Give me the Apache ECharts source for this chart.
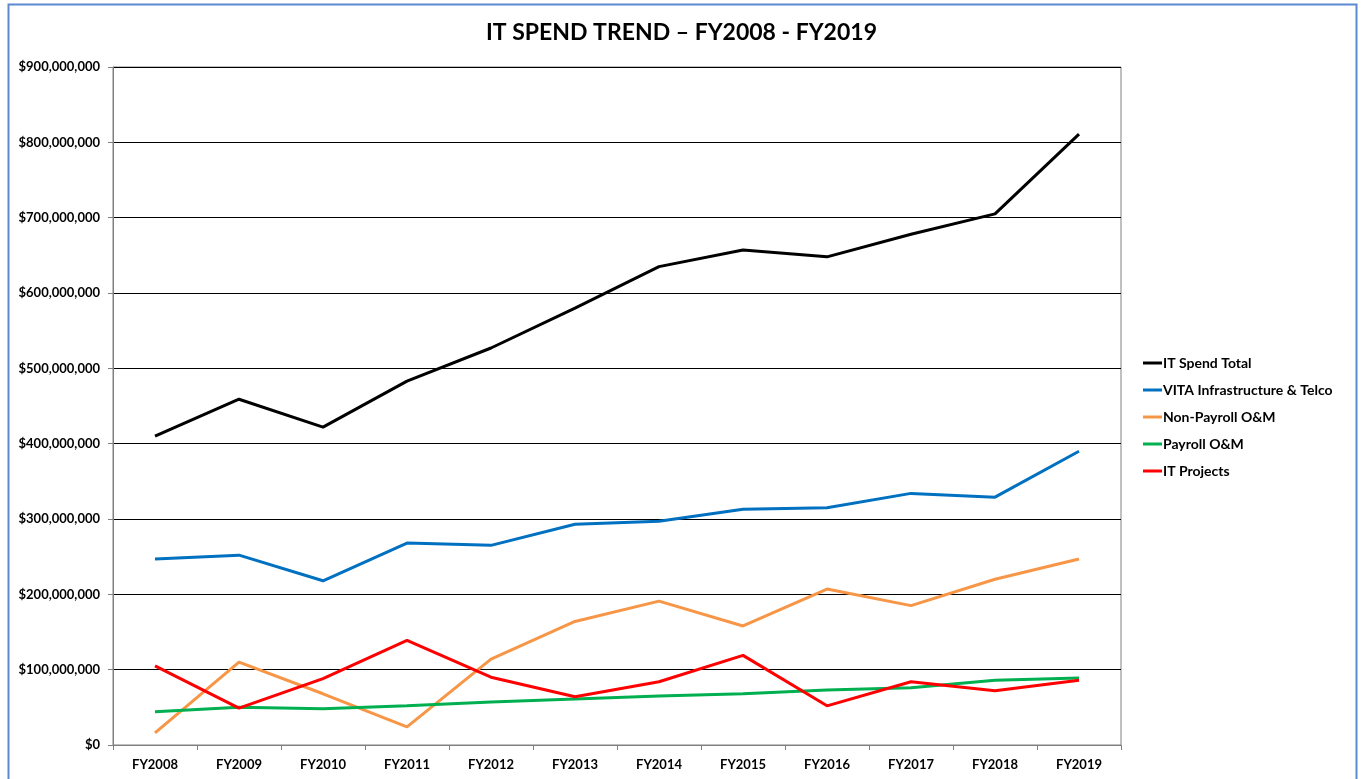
<!DOCTYPE html>
<html>
<head>
	<meta charset="utf-8">
	<title>IT Spend Trend</title>
	<script src="https://cdn.jsdelivr.net/npm/echarts@6/dist/echarts.min.js"></script>
	<style>
		body { margin: 0; background: #fff; }
	</style>
</head>
<body>
	<div id="main" style="width: 1363px;height:779px;"></div>
	<script type="text/javascript">
		// values, in dollars
		const years = ['FY2008', 'FY2009', 'FY2010', 'FY2011', 'FY2012', 'FY2013',
			'FY2014', 'FY2015', 'FY2016', 'FY2017', 'FY2018', 'FY2019'];
		const itSpendTotal = [410e6, 459e6, 422e6, 483e6, 527e6, 580e6, 635e6, 657e6, 648e6, 678e6, 705e6, 811e6];
		const vitaInfra = [247e6, 252e6, 218e6, 268e6, 265e6, 293e6, 297e6, 313e6, 315e6, 334e6, 329e6, 390e6];
		const nonPayroll = [16e6, 110e6, 68e6, 24e6, 114e6, 164e6, 191e6, 158e6, 207e6, 185e6, 220e6, 247e6];
		const payroll = [44e6, 50e6, 48e6, 52e6, 57e6, 61e6, 65e6, 68e6, 73e6, 76e6, 86e6, 89e6];
		const itProjects = [105e6, 49e6, 88e6, 139e6, 90e6, 64e6, 84e6, 119e6, 52e6, 84e6, 72e6, 86e6];

		const names = ['IT Spend Total', 'VITA Infrastructure & Telco', 'Non-Payroll O&M', 'Payroll O&M', 'IT Projects'];
		const colors = ['#000000', '#0070c0', '#f79646', '#00b050', '#ff0000'];
		const seriesData = [itSpendTotal, vitaInfra, nonPayroll, payroll, itProjects];

		const font = 'Lato, "Open Sans", sans-serif';

		function money(v) {
			return '$' + v.toLocaleString('en-US');
		}

		const myChart = echarts.init(document.getElementById('main'));
		const options = {
			backgroundColor: '#fff',
			animation: false,
			title: {
				text: 'IT SPEND TREND \u2013 FY2008 - FY2019',
				left: 'center',
				top: 16,
				textStyle: { fontFamily: font, fontWeight: 'bold', fontSize: 23, color: '#000' }
			},
			graphic: [{
				type: 'rect',
				shape: { x: 8.5, y: 4.5, width: 1348, height: 800 },
				style: { fill: 'none', stroke: '#5b8ad0', lineWidth: 2 },
				silent: true
			}],
			legend: {
				orient: 'vertical',
				left: 1138,
				top: 351,
				itemWidth: 19,
				itemHeight: 3,
				itemGap: 13,
				icon: 'rect',
				textStyle: { fontFamily: font, fontWeight: 'bold', fontSize: 14, color: '#000', padding: [0, 0, 0, -4] },
				data: names
			},
			grid: {
				left: 113,
				right: 242,
				top: 67,
				bottom: 34,
				show: true,
				borderColor: '#808080',
				borderWidth: 1
			},
			xAxis: {
				type: 'category',
				data: years,
				boundaryGap: true,
				axisLine: { lineStyle: { color: '#808080', width: 1 } },
				axisTick: { show: true, length: 5, lineStyle: { color: '#808080' } },
				axisLabel: { fontFamily: font, fontWeight: 'bold', fontSize: 13, color: '#000', margin: 13 }
			},
			yAxis: {
				type: 'value',
				min: 0,
				max: 900e6,
				interval: 100e6,
				axisLine: { show: true, lineStyle: { color: '#808080', width: 1 } },
				axisTick: { show: true, length: 5, lineStyle: { color: '#808080' } },
				splitLine: { lineStyle: { color: '#000', width: 1 } },
				axisLabel: {
					fontFamily: font, fontWeight: 'bold', fontSize: 13, color: '#000', margin: 13,
					formatter: money
				}
			},
			series: names.map((name, i) => ({
				name: name,
				type: 'line',
				data: seriesData[i],
				symbol: 'none',
				color: colors[i],
				lineStyle: { width: 3, color: colors[i] }
			}))
		};
		myChart.setOption(options);
	</script>
</body>
</html>
